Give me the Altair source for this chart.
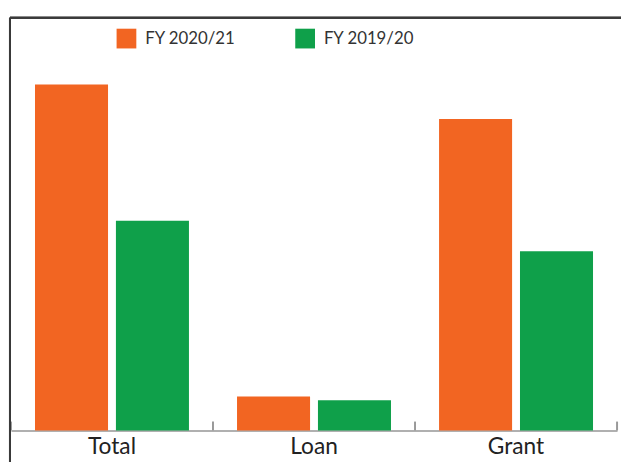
import altair as alt
import pandas as pd

categories = ["Total", "Loan", "Grant"]
series = ["FY 2020/21", "FY 2019/20"]
values_2020_21 = [350.5, 34.5, 315.5]
values_2019_20 = [212.5, 30.5, 181.5]
colors = ["#F26522", "#0FA04A"]

rows = []
for i, c in enumerate(categories):
    rows.append({"cat": c, "series": series[0], "value": values_2020_21[i]})
    rows.append({"cat": c, "series": series[1], "value": values_2019_20[i]})
df = pd.DataFrame(rows)
cat_df = pd.DataFrame({"cat": categories})

W, H = 614, 418
FONT = "Lato"

xscale = alt.Scale(domain=categories, paddingInner=0, paddingOuter=0)

bars = alt.Chart(df).mark_bar().encode(
    x=alt.X("cat:N", sort=categories, scale=xscale,
            axis=alt.Axis(title=None, ticks=False, labelAngle=0, labelFont=FONT,
                          labelFontSize=23, labelColor="#222", labelPadding=5,
                          domainColor="#b0b0b0", domainWidth=2, grid=False)),
    xOffset=alt.XOffset("series:N", sort=series,
                        scale=alt.Scale(domain=series, paddingInner=0.0976, paddingOuter=0.297)),
    y=alt.Y("value:Q", scale=alt.Scale(domain=[0, 418], nice=False, zero=True), axis=None),
    color=alt.Color("series:N", sort=series,
                    scale=alt.Scale(domain=series, range=colors),
                    legend=alt.Legend(title=None, orient="none", direction="horizontal",
                                      legendX=107, legendY=11, padding=0,
                                      symbolType="square", symbolSize=400,
                                      symbolStrokeWidth=0, symbolOpacity=1,
                                      labelFont=FONT, labelFontSize=17, labelColor="#333",
                                      labelOffset=9, columnPadding=60)),
)

ticks_start = alt.Chart(cat_df).mark_rule(color="#999", strokeWidth=2).encode(
    x=alt.X("cat:N", sort=categories, scale=xscale, bandPosition=0),
    y=alt.datum(0),
    y2=alt.datum(9),
)
ticks_end = alt.Chart(cat_df).transform_filter(
    alt.datum.cat == categories[-1]
).mark_rule(color="#999", strokeWidth=2).encode(
    x=alt.X("cat:N", sort=categories, scale=xscale, bandPosition=1),
    y=alt.datum(0),
    y2=alt.datum(9),
)

frame_top = alt.Chart(cat_df).mark_rule(color="#3a3a3a", strokeWidth=2).encode(
    x=alt.value(-1), x2=alt.value(W + 6), y=alt.value(0)
)
frame_left = alt.Chart(cat_df).mark_rule(color="#3a3a3a", strokeWidth=2).encode(
    x=alt.value(-1), y=alt.value(0), y2=alt.value(H + 32)
)

chart = alt.layer(bars, ticks_start, ticks_end, frame_top, frame_left).properties(
    width=W, height=H,
    autosize=alt.AutoSizeParams(type="none"),
    padding={"left": 3, "top": 7, "right": 4, "bottom": 31},
).configure_view(stroke=None)

chart.save("out.html", embed_options={"renderer": "svg", "actions": False})
